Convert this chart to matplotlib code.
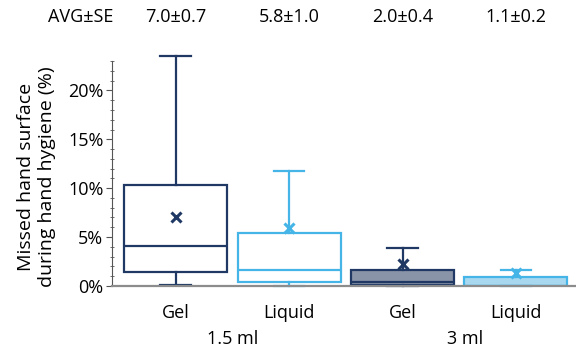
import matplotlib
matplotlib.use("Agg")
import matplotlib.pyplot as plt
from matplotlib.ticker import MultipleLocator, FuncFormatter
from matplotlib.transforms import blended_transform_factory

plt.rcParams['font.family'] = ['Open Sans', 'DejaVu Sans']

# values (percent)
products = ['Gel', 'Liquid', 'Gel', 'Liquid']
volumes = ['1.5 ml', '3 ml']
avg_se = ['7.0±0.7', '5.8±1.0', '2.0±0.4', '1.1±0.2']
whis_lo = [0.1, 0.0, 0.0, 0.0]
q1 = [1.4, 0.4, 0.1, 0.0]
median = [4.1, 1.6, 0.4, 0.0]
q3 = [10.3, 5.4, 1.6, 0.9]
whis_hi = [23.5, 11.8, 3.85, 1.6]
means = [7.1, 5.95, 2.2, 1.3]

navy = '#1f3864'
light = '#45b4e6'
edge_colors = [navy, light, navy, light]
fill_colors = ['white', 'white', '#8a94a8', '#a8d8f0']

fig = plt.figure(figsize=(5.76, 3.47), dpi=100)
ax = fig.add_axes([0.194, 0.176, 0.804, 0.648])

positions = [1, 2, 3, 4]
stats = []
for i in range(4):
    stats.append({'whislo': whis_lo[i], 'q1': q1[i], 'med': median[i],
                  'q3': q3[i], 'whishi': whis_hi[i], 'fliers': []})

bp = ax.bxp(stats, positions=positions, widths=0.91, capwidths=0.27,
            showfliers=False, patch_artist=True)
for i in range(4):
    c = edge_colors[i]
    bp['boxes'][i].set(facecolor=fill_colors[i], edgecolor=c, linewidth=1.6)
    bp['medians'][i].set(color=c, linewidth=1.6)
    for j in (2 * i, 2 * i + 1):
        bp['whiskers'][j].set(color=c, linewidth=1.6, clip_on=False)
        bp['caps'][j].set(color=c, linewidth=1.6, clip_on=False)
    ax.plot(positions[i], means[i], marker='x', color=c, markersize=6.5,
            markeredgewidth=2.2, zorder=5)

ax.set_xlim(0.435, 4.52)
ax.set_ylim(0, 23)
ax.yaxis.set_major_locator(MultipleLocator(5))
ax.yaxis.set_minor_locator(MultipleLocator(1))
ax.yaxis.set_major_formatter(FuncFormatter(lambda v, p: f'{v:.0f}%'))
ax.tick_params(axis='y', which='major', direction='out', length=4,
               color='#555555', labelsize=13, pad=2)
ax.tick_params(axis='y', which='minor', direction='inout', length=3,
               color='#555555')
ax.set_xticks(positions)
ax.set_xticklabels(products)
ax.tick_params(axis='x', length=0, labelsize=13, pad=13)

for side in ('top', 'right'):
    ax.spines[side].set_visible(False)
ax.spines['left'].set_color('#555555')
ax.spines['left'].set_linewidth(0.8)
ax.spines['bottom'].set_color('#8c8c8c')
ax.spines['bottom'].set_linewidth(1.6)

ax.set_ylabel('Missed hand surface\nduring hand hygiene (%)', fontsize=14,
              linespacing=1.2)
ax.yaxis.set_label_coords(-0.12, 0.484)

trans = blended_transform_factory(ax.transData, ax.transAxes)
ax.text(0.16, 1.195, 'AVG±SE', transform=trans, ha='center', va='center',
        fontsize=13, clip_on=False)
for i in range(4):
    ax.text(positions[i], 1.195, avg_se[i], transform=trans, ha='center',
            va='center', fontsize=13, clip_on=False)
ax.text(1.5, -0.235, volumes[0], transform=trans, ha='center', va='center',
        fontsize=13)
ax.text(3.55, -0.235, volumes[1], transform=trans, ha='center', va='center',
        fontsize=13)

fig.savefig('out.png', dpi=100)
